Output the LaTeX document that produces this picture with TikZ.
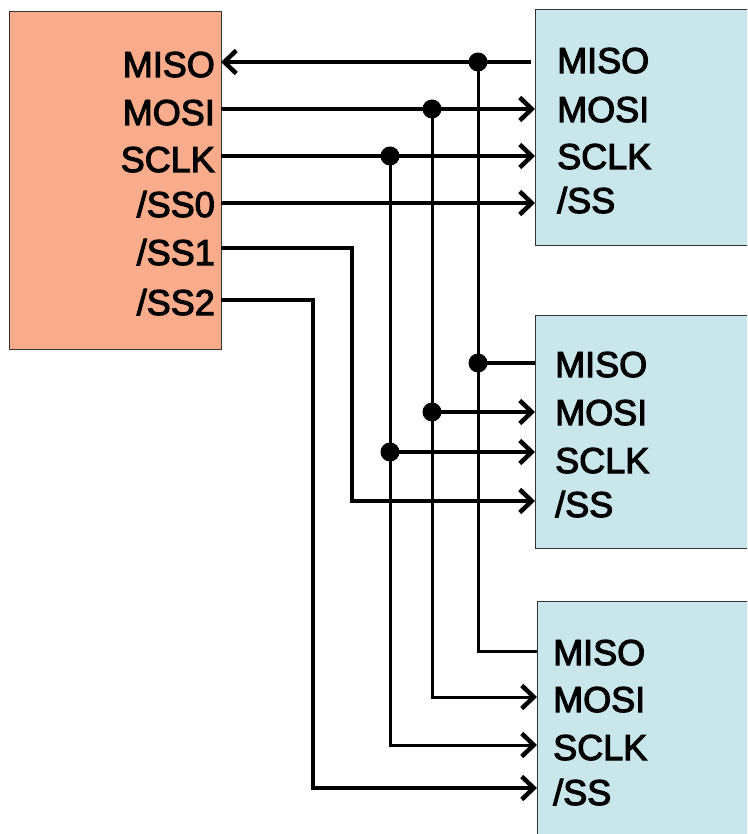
\documentclass[tikz,border=0pt]{standalone}
\usepackage{fontspec}
\setmainfont{Liberation Sans}
\newfontfamily\lblfont{Liberation Sans}[FakeBold=3]
\usetikzlibrary{arrows.meta}
\definecolor{masterfill}{RGB}{249,172,140}
\definecolor{slavefill}{RGB}{201,230,234}
\begin{document}
\begin{tikzpicture}[x=1pt,y=-1pt,
  wire/.style={line width=3.6pt, black},
  bus/.style={line width=3pt, black},
  arr/.style={-{Straight Barb[length=12pt,width=23pt,line width=4.5pt]}},
  dot/.style={circle, fill=black, inner sep=0pt, minimum size=19pt},
  box/.style={draw=black!80, line width=1.3pt, anchor=north west, inner sep=0pt},
  lbl/.style={font=\lblfont\fontsize{36}{36}\selectfont, inner sep=0pt}]
\useasboundingbox (0,0) rectangle (747,834);
\clip (0,0) rectangle (747,834);
% boxes
\node[box, fill=masterfill, minimum width=212pt, minimum height=338pt] (m) at (9,11) {};
\node[box, fill=slavefill, minimum width=230pt, minimum height=236pt] (s1) at (535,9) {};
\node[box, fill=slavefill, minimum width=230pt, minimum height=233pt] (s2) at (535,315) {};
\node[box, fill=slavefill, minimum width=230pt, minimum height=250pt] (s3) at (537,601) {};
% master labels
\node[lbl, anchor=base east] (mMISO) at (215,77) {MISO};
\node[lbl, anchor=base east] (mMOSI) at (215,125) {MOSI};
\node[lbl, anchor=base east] (mSCLK) at (215,172) {SCLK};
\node[lbl, anchor=base east] (mSS0) at (215,217) {/SS0};
\node[lbl, anchor=base east] (mSS1) at (215,265) {/SS1};
\node[lbl, anchor=base east] (mSS2) at (215,315) {/SS2};
% slave labels
\foreach \s/\a/\b/\c/\d/\x in {1/73/122/169/213/557, 2/377/425/473/517/555, 3/665/712/760/805/553}{
  \node[lbl, anchor=base west] (s\s MISO) at (\x,\a) {MISO};
  \node[lbl, anchor=base west] (s\s MOSI) at (\x,\b) {MOSI};
  \node[lbl, anchor=base west] (s\s SCLK) at (\x,\c) {SCLK};
  \node[lbl, anchor=base west] (s\s SS) at (\x,\d) {/SS};
}
% coordinates
\coordinate (mmiso) at (221,62);
\coordinate (mmosi) at (221,109);
\coordinate (msclk) at (221,156);
\coordinate (mss0) at (221,203);
\coordinate (mss1) at (221,248);
\coordinate (mss2) at (221,300);
\coordinate (s1miso) at (531,62);
\coordinate (s1mosi) at (535,109);
\coordinate (s1sclk) at (535,156);
\coordinate (s1ss) at (535,203);
\coordinate (s2miso) at (535,363);
\coordinate (s2mosi) at (535,412);
\coordinate (s2sclk) at (535,452);
\coordinate (s2ss) at (535,501);
\coordinate (s3miso) at (537,651);
\coordinate (s3mosi) at (537,697);
\coordinate (s3sclk) at (537,745);
\coordinate (s3ss) at (537,788);
% junction dots
\node[dot] (d1) at (478,62) {};
\node[dot] (d2) at (432,109) {};
\node[dot] (d3) at (390,156) {};
\node[dot] (d4) at (478,363) {};
\node[dot] (d5) at (432,412) {};
\node[dot] (d6) at (390,452) {};
% buses
\draw[bus] (d1.center) |- (s3miso);
\draw[bus, arr] (d2.center) |- (s3mosi);
\draw[bus, arr] (d3.center) |- (s3sclk);
% slave 1
\draw[wire, arr] (s1miso) -- (mmiso);
\draw[wire, arr] (mmosi) -- (s1mosi);
\draw[wire, arr] (msclk) -- (s1sclk);
\draw[wire, arr] (mss0) -- (s1ss);
% slave 2
\draw[wire] (s2miso) -- (d4.center);
\draw[wire, arr] (d5.center) -- (s2mosi);
\draw[wire, arr] (d6.center) -- (s2sclk);
\draw[wire, arr] (mss1) -| (352,420) |- (s2ss);
% slave 3
\draw[wire, arr] (mss2) -| (313,500) |- (s3ss);
\end{tikzpicture}
\end{document}
